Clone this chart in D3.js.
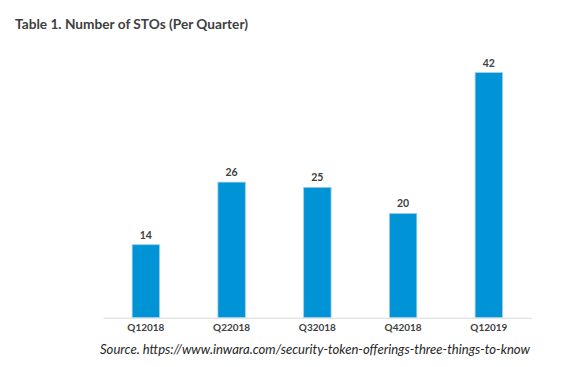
<!DOCTYPE html>
<html>
<head>
<meta charset="utf-8">
<script src="https://cdn.jsdelivr.net/npm/d3@7"></script>
<style>
  body { margin: 0; background: #fff; }
  text { font-family: Lato, "Open Sans", sans-serif; }
</style>
</head>
<body>
<svg id="chart" width="581" height="367"></svg>
<script>
// quarters on the x axis
const quarters = ["Q12018", "Q22018", "Q32018", "Q42018", "Q12019"];
// bar heights as drawn (last bar is drawn taller than its label says)
const barValues = [14, 26, 25, 20, 47];
// labels printed above each bar
const valueLabels = ["14", "26", "25", "20", "42"];

const title = "Table 1. Number of STOs (Per Quarter)";
const source = "Source. https://www.inwara.com/security-token-offerings-three-things-to-know";

const svg = d3.select("#chart");
const baseline = 317.7;

const x = d3.scaleBand()
    .domain(quarters)
    .range([103, 531.7])
    .paddingInner(0.68)
    .paddingOuter(0.34);

const y = d3.scaleLinear()
    .domain([0, 47])
    .range([baseline, baseline - 47 * 5.215]);

svg.append("text")
    .attr("x", 15)
    .attr("y", 29)
    .attr("font-size", 13.3)
    .attr("font-weight", "bold")
    .attr("fill", "#404040")
    .attr("textLength", 233)
    .attr("lengthAdjust", "spacingAndGlyphs")
    .text(title);

svg.selectAll(".bar")
    .data(quarters)
    .enter().append("rect")
    .attr("class", "bar")
    .attr("x", d => x(d))
    .attr("width", x.bandwidth())
    .attr("y", (d, i) => y(barValues[i]))
    .attr("height", (d, i) => baseline - y(barValues[i]))
    .attr("fill", "#0094d7")
    .attr("stroke", "#9fd0ec")
    .attr("stroke-width", 0.8);

svg.selectAll(".vlabel")
    .data(quarters)
    .enter().append("text")
    .attr("class", "vlabel")
    .attr("x", d => x(d) + x.bandwidth() / 2)
    .attr("y", (d, i) => y(barValues[i]) - 6)
    .attr("text-anchor", "middle")
    .attr("font-size", 10.5)
    .attr("font-weight", "bold")
    .attr("fill", "#404040")
    .text((d, i) => valueLabels[i]);

const xAxis = svg.append("g")
    .attr("transform", `translate(0,${baseline})`)
    .call(d3.axisBottom(x).tickSize(0).tickPadding(6));
xAxis.select(".domain").attr("stroke", "#d9d9d9").attr("stroke-width", 1);
xAxis.selectAll("text")
    .attr("font-size", 10)
    .attr("font-weight", "bold")
    .attr("fill", "#404040")
    .attr("textLength", 37)
    .attr("lengthAdjust", "spacingAndGlyphs")
    .style("font-family", "Lato, 'Open Sans', sans-serif");

svg.append("text")
    .attr("x", 100)
    .attr("y", 353.5)
    .attr("font-size", 12.5)
    .attr("font-style", "italic")
    .attr("fill", "#262626")
    .attr("textLength", 430)
    .attr("lengthAdjust", "spacingAndGlyphs")
    .text(source);
</script>
</body>
</html>
